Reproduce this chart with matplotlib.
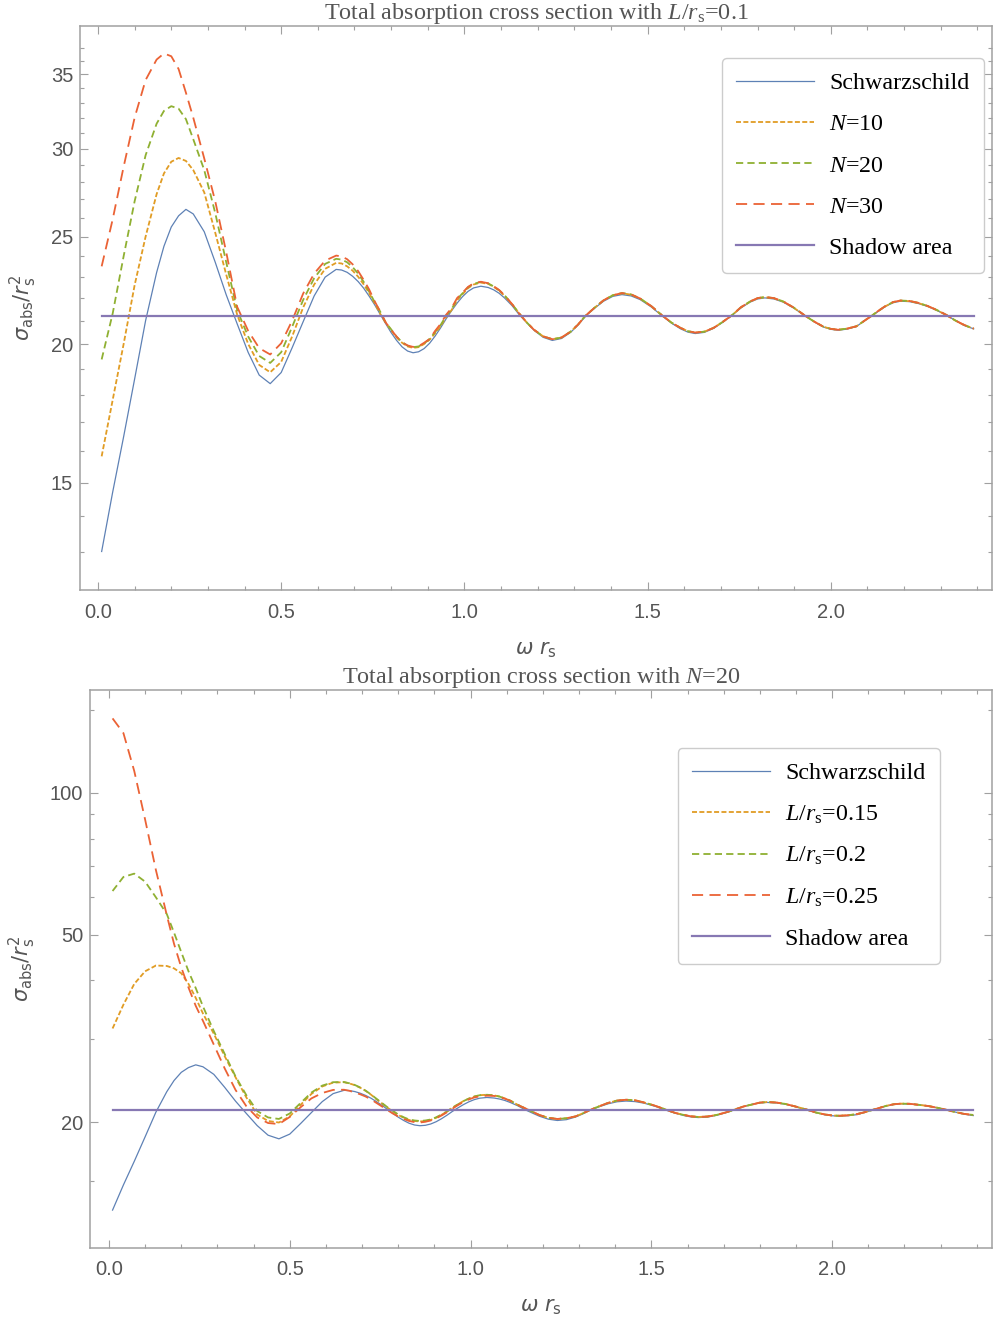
import numpy as np
import matplotlib
matplotlib.use('Agg')
import matplotlib.pyplot as plt
from matplotlib.ticker import NullFormatter

plt.rcParams['font.family'] = 'Liberation Sans'
plt.rcParams['mathtext.fontset'] = 'custom'
plt.rcParams['mathtext.rm'] = 'Liberation Serif'
plt.rcParams['mathtext.it'] = 'Liberation Serif:italic'
plt.rcParams['mathtext.bf'] = 'Liberation Serif:bold'
plt.rcParams['lines.scale_dashes'] = False

# omega * r_s sample points (shared by all curves)
omega = [0.01, 0.04, 0.07, 0.10, 0.13, 0.16, 0.18, 0.20, 0.22, 0.24,
         0.26, 0.29, 0.32, 0.35, 0.38, 0.41, 0.44, 0.47, 0.50, 0.53,
         0.56, 0.59, 0.62, 0.65, 0.665, 0.68, 0.695, 0.71, 0.725, 0.74,
         0.755, 0.77, 0.785, 0.80, 0.815, 0.83, 0.845, 0.86, 0.875, 0.89,
         0.905, 0.92, 0.935, 0.95, 0.965, 0.98, 0.995, 1.01, 1.025, 1.045,
         1.065, 1.08, 1.095, 1.11, 1.13, 1.15, 1.17, 1.19, 1.215, 1.24,
         1.265, 1.29, 1.31, 1.33, 1.355, 1.38, 1.405, 1.43, 1.455, 1.48,
         1.51, 1.54, 1.565, 1.59, 1.61, 1.63, 1.655, 1.68, 1.705, 1.73,
         1.755, 1.78, 1.80, 1.82, 1.845, 1.87, 1.90, 1.93, 1.955, 1.98,
         2.0, 2.02, 2.045, 2.07, 2.09, 2.11, 2.13, 2.15, 2.17, 2.19,
         2.215, 2.24, 2.265, 2.29, 2.315, 2.34, 2.365, 2.39]

# sigma_abs / r_s^2, Schwarzschild (same in both panels)
schwarzschild = [13.0, 14.7, 16.5, 18.6, 21.0, 23.2, 24.5, 25.5, 26.1, 26.45,
                 26.2, 25.25, 23.7, 22.15, 20.85, 19.65, 18.75, 18.42, 18.85, 19.85,
                 20.95, 22.1, 22.98, 23.35, 23.32, 23.21, 23.02, 22.77, 22.46, 22.09,
                 21.7, 21.28, 20.87, 20.48, 20.15, 19.88, 19.71, 19.64, 19.68, 19.81,
                 20.03, 20.33, 20.68, 21.07, 21.43, 21.77, 22.07, 22.31, 22.47, 22.55,
                 22.49, 22.38, 22.22, 22.0, 21.66, 21.25, 20.91, 20.58, 20.28, 20.15,
                 20.23, 20.49, 20.8, 21.18, 21.54, 21.86, 22.08, 22.16, 22.1, 21.93,
                 21.6, 21.2, 20.89, 20.64, 20.5, 20.44, 20.49, 20.66, 20.92, 21.22,
                 21.56, 21.82, 21.96, 22.01, 21.96, 21.82, 21.54, 21.2, 20.94, 20.72,
                 20.62, 20.58, 20.63, 20.74, 20.97, 21.18, 21.41, 21.63, 21.79, 21.86,
                 21.84, 21.75, 21.62, 21.44, 21.24, 21.0, 20.78, 20.64]

# top panel, L/r_s = 0.1
n10 = [15.84, 17.8, 20.0, 22.6, 25.0, 27.3, 28.5, 29.2, 29.43, 29.25,
       28.7, 27.4, 25.2, 23.1, 21.25, 20.0, 19.15, 18.86, 19.27, 20.32,
       21.58, 22.63, 23.38, 23.67, 23.64, 23.5, 23.29, 23.0, 22.64, 22.23,
       21.77, 21.3, 20.91, 20.58, 20.28, 20.05, 19.9, 19.84, 19.87, 20.0,
       20.18, 20.45, 20.75, 21.15, 21.46, 21.9, 22.18, 22.46, 22.63, 22.72,
       22.66, 22.52, 22.34, 22.1, 21.72, 21.3, 20.92, 20.6, 20.32, 20.2,
       20.27, 20.52, 20.82, 21.2, 21.56, 21.9, 22.13, 22.22, 22.16, 21.97,
       21.63, 21.22, 20.91, 20.68, 20.54, 20.48, 20.52, 20.68, 20.94, 21.23,
       21.58, 21.84, 21.99, 22.04, 21.99, 21.84, 21.55, 21.21, 20.95, 20.73,
       20.64, 20.6, 20.65, 20.75, 20.97, 21.19, 21.42, 21.64, 21.81, 21.88,
       21.86, 21.77, 21.63, 21.45, 21.24, 21.0, 20.79, 20.65]
n20 = [19.37, 21.3, 24.0, 26.9, 29.6, 31.6, 32.45, 32.77, 32.6, 31.9,
       30.6, 28.7, 26.25, 23.7, 21.45, 20.31, 19.51, 19.23, 19.66, 20.73,
       21.92, 22.93, 23.62, 23.87, 23.83, 23.7, 23.46, 23.15, 22.76, 22.3,
       21.82, 21.4, 20.92, 20.62, 20.3, 20.08, 19.93, 19.87, 19.9, 20.02,
       20.21, 20.5, 20.8, 21.2, 21.5, 21.95, 22.22, 22.5, 22.66, 22.75,
       22.68, 22.54, 22.36, 22.12, 21.73, 21.3, 20.92, 20.6, 20.32, 20.2,
       20.27, 20.52, 20.82, 21.2, 21.56, 21.9, 22.13, 22.23, 22.17, 21.98,
       21.64, 21.22, 20.91, 20.68, 20.54, 20.48, 20.52, 20.68, 20.94, 21.23,
       21.59, 21.85, 22.0, 22.05, 22.0, 21.85, 21.56, 21.21, 20.95, 20.73,
       20.64, 20.6, 20.65, 20.75, 20.97, 21.19, 21.43, 21.65, 21.82, 21.89,
       21.87, 21.78, 21.64, 21.46, 21.25, 21.0, 20.8, 20.65]
n30 = [23.5, 25.9, 28.9, 32.0, 34.6, 36.1, 36.56, 36.35, 35.4, 33.7,
       32.0, 29.4, 26.9, 24.2, 21.6, 20.55, 19.83, 19.57, 20.03, 21.0,
       22.21, 23.15, 23.78, 24.03, 23.99, 23.85, 23.6, 23.27, 22.85, 22.4,
       21.86, 21.4, 20.92, 20.6, 20.31, 20.06, 19.94, 19.88, 19.91, 20.05,
       20.21, 20.55, 20.85, 21.25, 21.55, 22.0, 22.25, 22.52, 22.68, 22.76,
       22.69, 22.55, 22.37, 22.12, 21.73, 21.3, 20.92, 20.6, 20.32, 20.2,
       20.27, 20.52, 20.82, 21.2, 21.56, 21.9, 22.13, 22.23, 22.17, 21.98,
       21.64, 21.22, 20.91, 20.68, 20.54, 20.48, 20.52, 20.68, 20.94, 21.23,
       21.59, 21.85, 22.0, 22.05, 22.0, 21.85, 21.56, 21.21, 20.95, 20.73,
       20.64, 20.6, 20.65, 20.75, 20.97, 21.19, 21.43, 21.65, 21.82, 21.89,
       21.87, 21.78, 21.64, 21.46, 21.25, 21.0, 20.8, 20.65]

# bottom panel, N = 20
l015 = [31.6, 35.5, 39.3, 41.8, 43.0, 42.9, 42.4, 41.4, 39.3, 36.7,
        34.0, 30.8, 27.6, 24.9, 22.55, 20.75, 20.1, 19.95, 20.55, 21.75,
        22.95, 23.8, 24.25, 24.3, 24.15, 23.95, 23.65, 23.3, 22.85, 22.35,
        21.9, 21.45, 21.07, 20.7, 20.42, 20.2, 20.1, 20.05, 20.1, 20.2,
        20.42, 20.72, 21.05, 21.45, 21.8, 22.15, 22.42, 22.65, 22.8, 22.85,
        22.78, 22.65, 22.44, 22.2, 21.76, 21.4, 21.05, 20.7, 20.41, 20.3,
        20.37, 20.55, 20.86, 21.2, 21.59, 21.95, 22.21, 22.3, 22.24, 22.0,
        21.66, 21.25, 20.92, 20.7, 20.56, 20.5, 20.54, 20.7, 20.95, 21.25,
        21.58, 21.8, 21.99, 22.05, 22.0, 21.85, 21.56, 21.25, 20.95, 20.75,
        20.65, 20.62, 20.67, 20.8, 20.98, 21.2, 21.42, 21.65, 21.81, 21.88,
        21.86, 21.75, 21.63, 21.45, 21.24, 21.0, 20.81, 20.7]
l020 = [61.9, 66.3, 67.4, 64.8, 60.0, 55.3, 50.5, 45.9, 41.8, 38.5,
        35.2, 31.2, 27.9, 25.0, 22.8, 21.1, 20.45, 20.3, 20.85, 21.95,
        23.1, 23.9, 24.3, 24.32, 24.17, 23.97, 23.67, 23.3, 22.88, 22.4,
        21.95, 21.5, 21.12, 20.75, 20.47, 20.25, 20.15, 20.1, 20.15, 20.25,
        20.47, 20.75, 21.07, 21.45, 21.8, 22.15, 22.42, 22.65, 22.8, 22.85,
        22.78, 22.65, 22.44, 22.2, 21.76, 21.4, 21.05, 20.7, 20.41, 20.3,
        20.37, 20.55, 20.86, 21.2, 21.59, 21.95, 22.21, 22.3, 22.24, 22.0,
        21.66, 21.25, 20.92, 20.7, 20.56, 20.5, 20.54, 20.7, 20.95, 21.25,
        21.58, 21.8, 21.99, 22.05, 22.0, 21.85, 21.56, 21.25, 20.95, 20.75,
        20.65, 20.62, 20.67, 20.8, 20.98, 21.2, 21.42, 21.65, 21.81, 21.88,
        21.86, 21.75, 21.63, 21.45, 21.24, 21.0, 20.81, 20.7]
l025 = [144.0, 134.0, 111.3, 87.8, 68.5, 55.0, 47.8, 42.6, 38.6, 35.3,
        32.8, 29.2, 26.0, 23.4, 21.6, 20.45, 19.9, 19.8, 20.5, 21.5,
        22.45, 23.05, 23.4, 23.42, 23.3, 23.1, 22.9, 22.65, 22.33, 21.95,
        21.58, 21.2, 20.85, 20.55, 20.3, 20.1, 19.99, 19.95, 20.02, 20.15,
        20.37, 20.65, 20.98, 21.35, 21.72, 22.05, 22.33, 22.55, 22.67, 22.75,
        22.72, 22.6, 22.42, 22.18, 21.75, 21.4, 21.05, 20.7, 20.41, 20.3,
        20.37, 20.55, 20.86, 21.2, 21.59, 21.95, 22.21, 22.3, 22.24, 22.0,
        21.66, 21.25, 20.92, 20.7, 20.56, 20.5, 20.54, 20.7, 20.95, 21.25,
        21.58, 21.8, 21.99, 22.05, 22.0, 21.85, 21.56, 21.25, 20.95, 20.75,
        20.65, 20.62, 20.67, 20.8, 20.98, 21.2, 21.42, 21.65, 21.81, 21.88,
        21.86, 21.75, 21.63, 21.45, 21.24, 21.0, 20.81, 20.7]

shadow_area = 21.2
shadow_x = [0.01, 2.39]

top_labels = ['Schwarzschild', r'$N$=10', r'$N$=20', r'$N$=30', 'Shadow area']
bottom_labels = ['Schwarzschild', r'$L/r_{\rm s}$=0.15', r'$L/r_{\rm s}$=0.2',
                 r'$L/r_{\rm s}$=0.25', 'Shadow area']

BLUE = '#5E81B5'
ORANGE = '#E19C24'
GREEN = '#8FB032'
RED = '#EB6235'
PURPLE = '#8778B3'
FRAME = '#a0a0a0'
TXT = '#555555'


def draw_panel(ax, curves, labels, title, ylim, xlim, ymajor, yminor, legend_anchor):
    ax.plot(omega, schwarzschild, color=BLUE, lw=0.9, label=labels[0])
    ax.plot(omega, curves[0], color=ORANGE, lw=1.3, dashes=(3.6, 1.7), label=labels[1])
    ax.plot(omega, curves[1], color=GREEN, lw=1.3, dashes=(5.2, 3.0), label=labels[2])
    ax.plot(omega, curves[2], color=RED, lw=1.3, dashes=(8.0, 4.6), label=labels[3])
    ax.plot(shadow_x, [shadow_area, shadow_area], color=PURPLE, lw=1.6, label=labels[4])

    ax.set_yscale('log')
    ax.set_ylim(ylim)
    ax.set_xlim(xlim)
    ax.set_xticks([0.0, 0.5, 1.0, 1.5, 2.0])
    ax.set_xticklabels(['0.0', '0.5', '1.0', '1.5', '2.0'])
    ax.set_xticks(np.arange(0.0, 2.45, 0.1), minor=True)
    ax.set_yticks(ymajor)
    ax.set_yticklabels([str(v) for v in ymajor])
    ax.set_yticks(yminor, minor=True)
    ax.yaxis.set_minor_formatter(NullFormatter())

    for sp in ax.spines.values():
        sp.set_color(FRAME)
        sp.set_linewidth(1.1)
    ax.tick_params(which='both', direction='in', top=True, right=True,
                   color=FRAME, labelcolor=TXT, labelsize=14.5, width=0.8)
    ax.tick_params(which='major', length=5.5)
    ax.tick_params(which='minor', length=3.2)
    ax.tick_params(axis='x', pad=9)
    ax.tick_params(axis='y', pad=5)

    ax.set_title(title, family='Liberation Serif', fontsize=17.4, color=TXT, pad=4)
    ax.set_xlabel(r'$\omega\ r_{\rm s}$', fontsize=15, color=TXT, math_fontfamily='dejavusans')
    ax.set_ylabel(r'$\sigma_{\rm abs}/r_{\rm s}^2$', fontsize=15, color=TXT, math_fontfamily='dejavusans')

    leg = ax.legend(loc='upper right', bbox_to_anchor=legend_anchor, borderaxespad=0,
                    prop={'family': 'Liberation Serif', 'size': 17.3},
                    handlelength=3.25, handletextpad=0.62, labelspacing=0.8,
                    borderpad=0.6, fancybox=True, framealpha=1, edgecolor='#cccccc')
    leg.get_frame().set_linewidth(1.0)


fig = plt.figure(figsize=(9.93, 13.23), dpi=100)
ax1 = fig.add_axes([0.0806, 0.5540, 0.9184, 0.4263])
ax2 = fig.add_axes([0.0906, 0.0567, 0.9084, 0.4218])

draw_panel(ax1, [n10, n20, n30], top_labels,
           r'Total absorption cross section with $L/r_{\rm s}$=0.1',
           (12.0, 38.7), (-0.049, 2.44),
           [15, 20, 25, 30, 35],
           [v for v in range(13, 38) if v % 5 != 0],
           (0.991, 0.943))
ax1.xaxis.set_label_coords(0.5, -0.0887)
ax1.yaxis.set_label_coords(-0.045, 0.5)

draw_panel(ax2, [l015, l020, l025], bottom_labels,
           r'Total absorption cross section with $N$=20',
           (10.8, 165.5), (-0.0525, 2.442),
           [20, 50, 100],
           [15, 30, 40, 60, 70, 80, 90, 150],
           (0.942, 0.896))
ax2.xaxis.set_label_coords(0.5, -0.0878)
ax2.yaxis.set_label_coords(-0.0576, 0.5)

fig.savefig('out.png', dpi=100)
